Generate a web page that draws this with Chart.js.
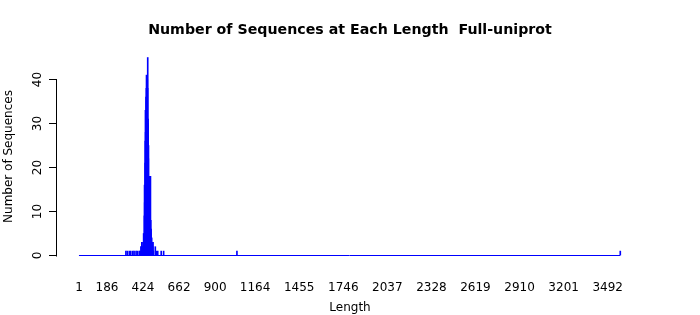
<!DOCTYPE html>
<html>
<head>
<meta charset="utf-8">
<script src="https://cdn.jsdelivr.net/npm/chart.js@4/dist/chart.umd.min.js"></script>
<style>
  html, body { margin: 0; padding: 0; background: #fff; }
  #wrap { width: 700px; height: 315px; position: relative; }
</style>
</head>
<body>
<div id="wrap"><canvas id="lengthChart"></canvas></div>
<script>
// sequence length -> number of sequences with that length
const lengths = [
  311, 321, 334, 343, 356, 365, 378, 387, 399, 405,
  410, 413, 416, 419, 421, 424, 426, 428, 430, 431, 433, 434, 435, 436, 437,
  438, 439, 440, 441, 442, 443, 444, 445, 446, 447, 448, 449, 450, 451, 452,
  453, 454, 455, 456, 457, 458, 459, 460, 461, 462, 463, 464, 465, 466, 467,
  468, 469, 470, 471, 472, 473, 474, 475, 476, 477, 478, 479, 480, 481, 482,
  483, 485, 486, 488, 490, 492, 505, 512, 521, 544, 560, 1044, 3575
];
const counts = [
  1, 1, 1, 1, 1, 1, 1, 1, 1, 1,
  2, 1, 3, 2, 2, 3, 2, 5, 4, 3, 9, 16, 12, 14, 10,
  21, 26, 33, 28, 24, 30, 36, 32, 38, 41, 35, 29, 37, 33, 40,
  31, 38, 45, 30, 31, 27, 22, 25, 17, 14, 18, 11, 15, 9, 12,
  8, 18, 7, 10, 6, 18, 5, 8, 4, 6, 4, 2, 3, 4, 2,
  3, 3, 1, 2, 3, 1, 2, 1, 1, 1, 1, 1, 1
];
const lengthRange = [1, 3575];   // every length in between is a (mostly empty) bar
const xTickValues = [1, 186, 424, 662, 900, 1164, 1455, 1746, 2037, 2328, 2619, 2910, 3201, 3492];
const yTickValues = [0, 10, 20, 30, 40];

Chart.defaults.font.family = "'DejaVu Sans', sans-serif";
Chart.defaults.font.size = 12;
Chart.defaults.color = '#000';

// R style y axis: the line only runs from the first to the last tick
const yAxisLine = {
  id: 'yAxisLine',
  afterDraw(chart) {
    const scale = chart.scales.y;
    const ctx = chart.ctx;
    const x = Math.round(scale.right) - 0.5;
    ctx.save();
    ctx.strokeStyle = '#000';
    ctx.lineWidth = 1;
    ctx.beginPath();
    ctx.moveTo(x, Math.round(scale.getPixelForValue(yTickValues[yTickValues.length - 1])) - 0.5);
    ctx.lineTo(x, Math.round(scale.getPixelForValue(yTickValues[0])) + 0.5);
    ctx.stroke();
    ctx.restore();
  }
};

const ctx = document.getElementById('lengthChart').getContext('2d');
new Chart(ctx, {
  type: 'bar',
  data: {
    datasets: [
      {
        type: 'bar',
        data: lengths.map((len, i) => ({ x: len, y: counts[i] })),
        backgroundColor: '#0000ff',
        borderWidth: 0,
        barThickness: 1,
        clip: false,
      },
      {
        type: 'line',
        data: lengthRange.map(len => ({ x: len, y: 0 })),
        borderColor: '#0000ff',
        borderWidth: 1,
        pointRadius: 0,
        clip: false,
      },
    ],
  },
  options: {
    animation: false,
    responsive: true,
    maintainAspectRatio: false,
    layout: { padding: 0 },
    scales: {
      x: {
        type: 'linear',
        offset: false,
        min: -144,
        max: 3725,
        grid: { display: false },
        border: { display: false },
        afterBuildTicks: (scale) => { scale.ticks = xTickValues.map(v => ({ value: v })); },
        afterFit: (scale) => { scale.height = 59.5; },
        ticks: { autoSkip: false, maxRotation: 0, padding: 17, callback: (v) => String(v) },
        title: { display: true, text: 'Length', padding: { top: 0, bottom: 0 } },
      },
      y: {
        min: 0,
        max: 45,
        grid: { drawOnChartArea: false, drawTicks: true, tickLength: 8, color: '#000' },
        border: { display: false },
        afterBuildTicks: (scale) => { scale.ticks = yTickValues.map(v => ({ value: v })); },
        afterFit: (scale) => { scale.width = 57; },
        ticks: { minRotation: 90, maxRotation: 90, crossAlign: 'center', padding: 3 },
        title: { display: true, text: 'Number of Sequences', padding: { top: 1.5, bottom: 0 } },
      },
      // empty right margin, so the plot region sits centred like R's
      yMargin: {
        position: 'right',
        display: true,
        ticks: { display: false },
        grid: { display: false },
        border: { display: false },
        afterFit: (scale) => { scale.width = 57; },
      },
    },
    plugins: {
      legend: { display: false },
      tooltip: { enabled: false },
      title: {
        display: true,
        text: 'Number of Sequences at Each Length  Full-uniprot',
        font: { size: 14.2, weight: 'bold' },
        color: '#000',
        padding: { top: 21.4, bottom: 19.1 },
      },
    },
  },
  plugins: [yAxisLine],
});
</script>
</body>
</html>
